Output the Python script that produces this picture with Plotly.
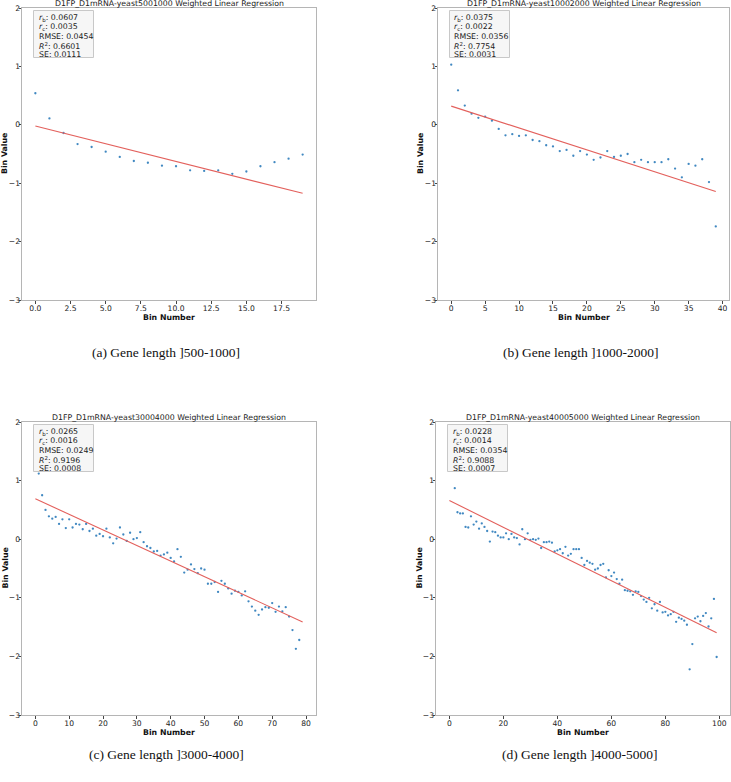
import plotly.graph_objects as go

W, H = 731, 782

# ---------------- data ----------------
titles = [
    "D1FP_D1mRNA-yeast5001000 Weighted Linear Regression",
    "D1FP_D1mRNA-yeast10002000 Weighted Linear Regression",
    "D1FP_D1mRNA-yeast30004000 Weighted Linear Regression",
    "D1FP_D1mRNA-yeast40005000 Weighted Linear Regression",
]
captions = [
    "(a) Gene length ]500-1000]",
    "(b) Gene length ]1000-2000]",
    "(c) Gene length ]3000-4000]",
    "(d) Gene length ]4000-5000]",
]

vals_a = [0.54, 0.11, -0.14, -0.33, -0.38, -0.46, -0.55, -0.62, -0.65, -0.70,
          -0.71, -0.78, -0.79, -0.78, -0.84, -0.80, -0.71, -0.64, -0.58, -0.51]

vals_b = [1.03, 0.59, 0.33, 0.19, 0.12, 0.14, 0.07, -0.07, -0.18, -0.16,
          -0.19, -0.18, -0.26, -0.28, -0.35, -0.37, -0.45, -0.43, -0.53, -0.45,
          -0.51, -0.60, -0.56, -0.45, -0.55, -0.53, -0.50, -0.64, -0.60, -0.64,
          -0.64, -0.64, -0.59, -0.75, -0.90, -0.67, -0.70, -0.59, -0.98, -1.74]

vals_c = [None, 1.12, 0.75, 0.50, 0.39, 0.35, 0.38, 0.26, 0.34, 0.19,
          0.34, 0.20, 0.26, 0.25, 0.17, 0.26, 0.14, 0.18, 0.06, 0.09,
          0.05, 0.18, 0.03, -0.07, 0.01, 0.20, 0.08, -0.03, 0.11, 0.00,
          0.02, 0.12, -0.05, -0.12, -0.15, -0.21, -0.20, -0.28, -0.26, -0.23,
          -0.32, -0.38, -0.17, -0.30, -0.57, -0.52, -0.43, -0.51, -0.58, -0.50,
          -0.52, -0.76, -0.76, -0.73, -0.90, -0.71, -0.76, -0.84, -0.93, -0.88,
          -0.90, -0.96, -0.89, -1.06, -1.15, -1.22, -1.29, -1.20, -1.16, -1.17,
          -1.09, -1.24, -1.15, -1.23, -1.16, -1.32, -1.55, -1.87, -1.72, None]

vals_d = [None, None, 0.87, 0.46, 0.44, 0.44, 0.21, 0.20, 0.39, 0.25,
          0.30, 0.18, 0.27, 0.21, 0.14, -0.04, 0.13, 0.12, 0.06, 0.03,
          0.03, 0.10, 0.00, 0.09, 0.03, 0.02, -0.09, 0.17, 0.00, 0.10,
          -0.01, 0.00, -0.01, 0.01, -0.15, -0.05, -0.05, -0.04, -0.06, -0.21,
          -0.19, -0.17, -0.24, -0.13, -0.28, -0.25, -0.17, -0.17, -0.17, -0.32,
          -0.44, -0.37, -0.40, -0.42, -0.52, -0.50, -0.44, -0.42, -0.65, -0.53,
          -0.63, -0.57, -0.68, -0.76, -0.69, -0.87, -0.88, -0.89, -0.95, -0.89,
          -0.90, -0.97, -1.03, -1.07, -1.00, -1.18, -1.11, -1.22, -1.07, -1.25,
          -1.24, -1.30, -1.28, -1.24, -1.41, -1.34, -1.36, -1.39, -1.46, -2.22,
          -1.79, -1.35, -1.32, -1.40, -1.31, -1.26, -1.49, -1.35, -1.02, -2.01]

series = [vals_a, vals_b, vals_c, vals_d]

fit_intercept = [-0.02, 0.32, 0.69, 0.66]
fit_slope = [-0.0607, -0.0375, -0.0266, -0.0228]

r_b = ["0.0607", "0.0375", "0.0265", "0.0228"]
r_c = ["0.0035", "0.0022", "0.0016", "0.0014"]
rmse = ["0.0454", "0.0356", "0.0249", "0.0354"]
r2 = ["0.6601", "0.7754", "0.9196", "0.9088"]
se = ["0.0111", "0.0031", "0.0008", "0.0007"]

x_dtick = [2.5, 5, 10, 20]
x_tickfmt = [".1f", "d", "d", "d"]
y_ticks = [-3, -2, -1, 0, 1, 2]

# ---------------- layout geometry (pixels) ----------------
panels_px = [  # left, right, top, bottom
    (22, 316, 8, 300),
    (438, 729, 8, 300),
    (22, 316, 422, 715),
    (436, 730, 422, 715),
]
caption_y = [352, 352, 754, 754]


def px(x):
    return x / W


def py(y):
    return 1 - y / H


fig = go.Figure()
annotations = []
shapes = []
FONT = "DejaVu Sans"
SERIF = "Liberation Serif"

for i, vals in enumerate(series):
    n = len(vals)
    bins = list(range(n))
    ax = "" if i == 0 else str(i + 1)
    xa, ya = "x" + ax, "y" + ax
    fig.add_trace(go.Scatter(
        x=bins, y=vals, mode="markers", xaxis=xa, yaxis=ya,
        marker=dict(size=2.3, color="#2b7bba", opacity=0.9), showlegend=False,
    ))
    fx = [bins[0], bins[-1]]
    fy = [fit_intercept[i] + fit_slope[i] * v for v in fx]
    fig.add_trace(go.Scatter(
        x=fx, y=fy, mode="lines", xaxis=xa, yaxis=ya,
        line=dict(color="#e3605c", width=1.1), showlegend=False,
    ))

    L, R, T, B = panels_px[i]
    axis_common = dict(
        showline=True, linecolor="#b5b5b5", linewidth=1, mirror=True,
        showgrid=False, zeroline=False, ticks="outside", ticklen=2.5,
        tickcolor="#444", automargin=False,
        tickfont=dict(family=FONT, size=7.6, color="#222"),
    )
    fig.layout["xaxis" + ax] = dict(
        domain=[px(L), px(R)], anchor=ya,
        range=[-0.05 * (n - 1), (n - 1) * 1.05], autorange=False,
        tick0=0, dtick=x_dtick[i], tickformat=x_tickfmt[i],
        ticklabelstandoff=-2, **axis_common,
    )
    fig.layout["yaxis" + ax] = dict(
        domain=[py(B), py(T)], anchor=xa, range=[-3, 2], autorange=False,
        tickvals=y_ticks, ticklabelstandoff=-3, **axis_common,
    )

    # title
    annotations.append(dict(
        text=titles[i], x=px((L + R) / 2), y=py(T - 4.5), xref="paper", yref="paper",
        xanchor="center", yanchor="middle", showarrow=False,
        font=dict(family=FONT, size=7.8, color="#222"),
    ))
    # axis labels
    annotations.append(dict(
        text="<b>Bin Number</b>", x=px((L + R) / 2), y=py(B + 17), xref="paper",
        yref="paper", xanchor="center", yanchor="middle", showarrow=False,
        font=dict(family=FONT, size=7.8, color="#111"),
    ))
    annotations.append(dict(
        text="<b>Bin Value</b>", x=px(L - 17), y=py((T + B) / 2), xref="paper",
        yref="paper", xanchor="center", yanchor="middle", showarrow=False,
        textangle=-90, font=dict(family=FONT, size=7.8, color="#111"),
    ))
    # caption
    annotations.append(dict(
        text=captions[i], x=px((L + R) / 2 - 3), y=py(caption_y[i]), xref="paper",
        yref="paper", xanchor="center", yanchor="middle", showarrow=False,
        font=dict(family=SERIF, size=13.5, color="#111"),
    ))
    # stats box
    bx0, by0 = L + 11.5, T + 2.5
    bx1, by1 = bx0 + 60, by0 + 47
    shapes.append(dict(
        type="rect", xref="paper", yref="paper",
        x0=px(bx0), x1=px(bx1), y0=py(by1), y1=py(by0),
        line=dict(color="#c8c8c8", width=1), fillcolor="#f6f6f6", layer="above",
    ))
    lines = [
        f"<i>r</i><sub>b</sub>: {r_b[i]}",
        f"<i>r</i><sub>c</sub>: {r_c[i]}",
        f"RMSE: {rmse[i]}",
        f"<i>R</i><sup>2</sup>: {r2[i]}",
        f"SE: {se[i]}",
    ]
    for k, t in enumerate(lines):
        annotations.append(dict(
            text=t, x=px(bx0 + 3), y=py(by0 + 7.5 + 9.2 * k), xref="paper",
            yref="paper", xanchor="left", yanchor="middle", showarrow=False,
            font=dict(family=FONT, size=7.8, color="#222"),
        ))

fig.update_layout(
    width=W, height=H, margin=dict(l=0, r=0, t=0, b=0),
    paper_bgcolor="white", plot_bgcolor="white",
    annotations=annotations, shapes=shapes,
)

fig.write_html(
    "out.html",
    config={"displayModeBar": False},
    post_script="document.body.style.margin='0px';document.body.style.overflow='hidden';",
)
